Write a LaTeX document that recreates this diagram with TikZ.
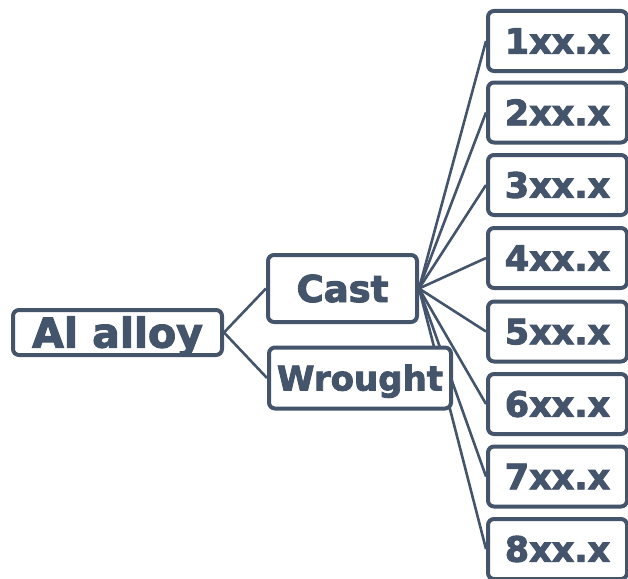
\documentclass[tikz,border=0pt]{standalone}
\usepackage{fontspec}
\setmainfont[BoldFeatures={FakeBold=2.6}]{DejaVu Sans}
\usetikzlibrary{backgrounds}
\definecolor{slate}{HTML}{44546A}

\tikzset{
  box/.style={draw=slate, line width=4pt, rounded corners=6pt, fill=white,
    text=slate, inner sep=0pt, text depth=0pt},
  link/.style={draw=slate, line width=2.6pt},
}

\begin{document}
\begin{tikzpicture}[x=1pt,y=-1pt]
        \useasboundingbox (0,0) rectangle (628,578);
        % left side of the tree
        \node[box, minimum width=209pt, minimum height=45pt, text height=30pt,
          font=\bfseries\fontsize{41}{41}\selectfont] (alloy) at (117.5,332.5) {Al alloy};
        \node[box, minimum width=149pt, minimum height=67pt, text height=27pt,
          font=\bfseries\fontsize{37}{37}\selectfont] (cast) at (342.5,288.5) {Cast};
        \node[box, minimum width=182pt, minimum height=61pt, text height=25pt,
          font=\bfseries\fontsize{34}{34}\selectfont] (wrought) at (360,378) {Wrought};
        % series boxes
        \foreach \i/\y in {1/41,2/112.5,3/185,4/258,5/331.5,6/404,7/476.5,8/549}
          \node[box, minimum width=139pt, minimum height=60pt, text height=25.5pt,
            font=\bfseries\fontsize{35}{35}\selectfont] (s\i) at (557.5,\y) {\i xx.x};
        \begin{scope}[on background layer]
          \draw[link] (alloy.east) -- (cast.west);
          \draw[link] (alloy.east) -- (wrought.west);
          \foreach \i in {1,...,8}
            \draw[link] (cast.east) -- (s\i.west);
        \end{scope}
\end{tikzpicture}
\end{document}
